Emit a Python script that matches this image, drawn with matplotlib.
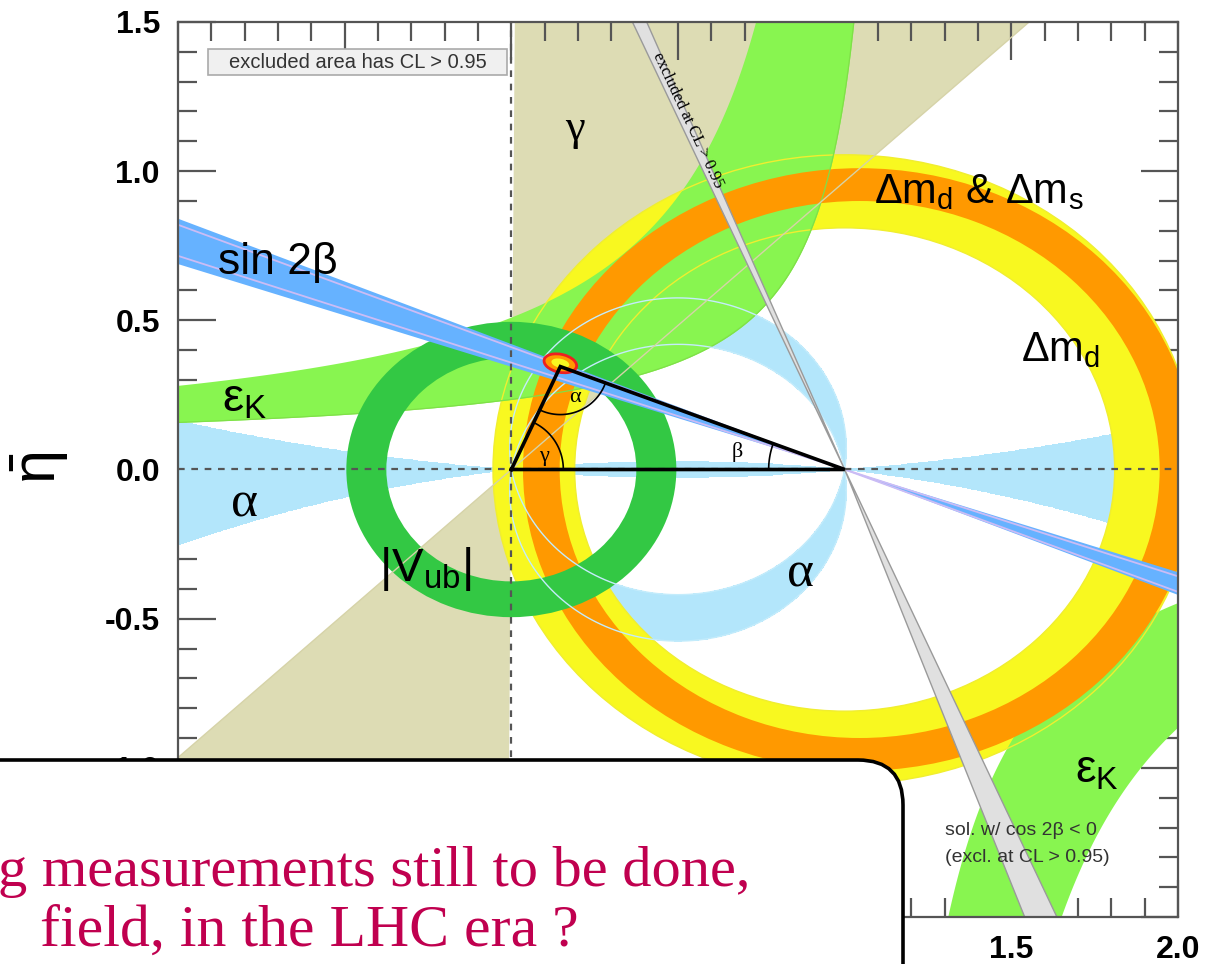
import numpy as np
import matplotlib.pyplot as plt
from matplotlib.patches import Wedge, Polygon, Ellipse, Rectangle, FancyBboxPatch, Circle
from matplotlib.ticker import MultipleLocator, FixedFormatter, FixedLocator

plt.rcParams['font.family'] = ['Liberation Sans', 'DejaVu Sans']
plt.rcParams['mathtext.fontset'] = 'custom'
plt.rcParams['mathtext.rm'] = 'Liberation Sans'
plt.rcParams['mathtext.it'] = 'Liberation Sans:italic'
plt.rcParams['mathtext.default'] = 'regular'
plt.rcParams['axes.unicode_minus'] = False

# constraints in the (rho, eta) plane
gamma_range = [44.0, 89.6]        # deg, wedge at (0,0) + mirror
sin2b_range = [19.0, 22.8]        # beta (deg), wedge at (1,0)
sin2b_inner = [19.7, 22.3]
cos2b_up = [67.0, 68.4]           # cos2beta<0 solution, excluded
cos2b_dn = [67.0, 70.2]
alpha_ring = [82.0, 100.0]
alpha_small = [4.6, 7.0]          # eta>0 / eta<0
alpha_flat = 6.0
dmd_c, dmd_r = 1.0, [0.81, 1.055]
dms_c, dms_r = 1.045, [0.90, 1.01]
vub_r = [0.375, 0.495]
# eps_K edges: eta = e + k/(a - rho)
epsk_lo = [0.068, 0.194, 1.163]
epsk_hi = [0.033, 0.520, 1.087]
epsk2_left = [0.0, 0.438, 1.017]
epsk2_right = [0.0, 0.7125, 1.174]
apex = [0.147, 0.345]
fit_ell = [0.147, 0.356, 0.10, 0.06, -15]

xticks = [-1.0, -0.5, 0.0, 0.5, 1.0, 1.5, 2.0]
xlabels = ['', '', '', '', '', '1.5', '2.0']
yticks = [-1.5, -1.0, -0.5, 0.0, 0.5, 1.0, 1.5]
ylabels = ['', '-1.0', '-0.5', '0.0', '0.5', '1.0', '1.5']

c_gamma = '#dddcb4'
c_alpha = '#b3e6fb'
c_epsk = '#88f550'
c_dmd = '#f8f820'
c_dms = '#ff9900'
c_vub = '#33c844'
c_sin2b = '#66b2ff'
c_excl = '#e0e0e0'

fig = plt.figure(figsize=(12.05, 9.64), dpi=100)
ax = fig.add_axes([178/1205, 1-917/964, 1000/1205, 895/964])
ax.set_xlim(-1, 2)
ax.set_ylim(-1.5, 1.5)
sx = 1000/3.0
sy = 895/3.0
R = 5.0

def hyp(p, x):
    return p[0] + p[1]/(p[2]-x)

def alpha_circle(a_deg, lower):
    # locus of apex points that see the (0,0)-(1,0) base under angle a
    c = 0.5/np.tan(np.radians(a_deg))
    if lower:
        c = -c
    r = np.hypot(0.5, c)
    t = np.linspace(0, 2*np.pi, 400)
    x, y = 0.5 + r*np.cos(t), c + r*np.sin(t)
    keep = (y <= 0) if lower else (y >= 0)
    return np.where(keep, x, np.nan), np.where(keep, y, np.nan)

# gamma
for s in (1, -1):
    t = np.radians(np.linspace(gamma_range[0], gamma_range[1], 30))
    pts = [(0, 0)] + [(s*R*np.cos(a), s*R*np.sin(a)) for a in t]
    ax.add_patch(Polygon(pts, closed=True, fc=c_gamma, ec='none', zorder=1))

# alpha
rr, ee = np.meshgrid(np.linspace(-1, 2, 1600), np.linspace(-1.5, 1.5, 1600))
ux, uy = -rr, -ee
vx, vy = 1-rr, -ee
cosang = (ux*vx+uy*vy)/np.hypot(ux, uy)/np.hypot(vx, vy)
ang = np.degrees(np.arccos(np.clip(cosang, -1, 1)))
small = np.where(ee >= 0, ang <= alpha_small[0], ang <= alpha_small[1])
mask = ((ang >= alpha_ring[0]) & (ang <= alpha_ring[1])) | small | (ang >= 180-alpha_flat)
ax.contourf(rr, ee, mask.astype(float), levels=[0.5, 1.5], colors=[c_alpha], zorder=2)

# Delta m_d ring (under eps_K)
ax.add_patch(Wedge((dmd_c, 0), dmd_r[1], 0, 360, width=dmd_r[1]-dmd_r[0],
                   fc=c_dmd, ec='none', zorder=3))

# eps_K, upper branch
x1 = np.linspace(-1.0, 1.08, 600)
lo = np.clip(hyp(epsk_lo, x1), -2, 1.6)
hi = np.where(x1 < epsk_hi[2] - 1e-3, hyp(epsk_hi, np.minimum(x1, epsk_hi[2]-1e-3)), 1.6)
hi = np.clip(hi, -2, 1.6)
ax.fill_between(x1, lo, hi, color=c_epsk, lw=0, zorder=4)
# eps_K, lower branch
x2 = np.linspace(1.2, 2.05, 400)
up2 = np.clip(hyp(epsk2_left, x2), -1.6, 0)
dn2 = np.clip(hyp(epsk2_right, x2), -1.6, 0)
ax.fill_between(x2, dn2, up2, color=c_epsk, lw=0, zorder=4)

# thin Delta m_d contours show through eps_K
for r in dmd_r:
    ax.add_patch(Circle((dmd_c, 0), r, fc='none', ec='#f0ee30', lw=1.0, zorder=4.5))

# Delta m_d & Delta m_s
ax.add_patch(Wedge((dms_c, 0), dms_r[1], 0, 360, width=dms_r[1]-dms_r[0],
                   fc=c_dms, ec='none', zorder=5))
ax.plot(x1, np.where(lo < 1.6, lo, np.nan), color='#7fe048', lw=0.9, zorder=5.5)

# |Vub|
ax.add_patch(Wedge((0, 0), vub_r[1], 0, 360, width=vub_r[1]-vub_r[0],
                   fc=c_vub, ec='none', zorder=6))

# faint alpha and gamma contours over the rings
for a in alpha_ring:
    for low in (False, True):
        xa, ya = alpha_circle(a, low)
        ax.plot(xa, ya, color='#c4ecfb', lw=1.0, zorder=6.5)
for s in (1, -1):
    g = np.radians(gamma_range[0])
    ax.plot([0, s*R*np.cos(g)], [0, s*R*np.sin(g)], color='#d6d3a8', lw=1.0, zorder=6.5)

# sin 2beta
for s in (1, -1):
    b0, b1 = np.radians(sin2b_range)
    pts = [(1, 0), (1 - s*R*np.cos(b0), s*R*np.sin(b0)), (1 - s*R*np.cos(b1), s*R*np.sin(b1))]
    ax.add_patch(Polygon(pts, closed=True, fc=c_sin2b, ec='none', zorder=7))
    for b in np.radians(sin2b_inner):
        ax.plot([1, 1 - s*R*np.cos(b)], [0, s*R*np.sin(b)], color='#cbbcf5', lw=1.3, zorder=7)

# excluded cos2beta<0 solution
for s, rng in ((1, cos2b_up), (-1, cos2b_dn)):
    b0, b1 = np.radians(rng)
    pts = [(1, 0), (1 - s*R*np.cos(b0), s*R*np.sin(b0)), (1 - s*R*np.cos(b1), s*R*np.sin(b1))]
    ax.add_patch(Polygon(pts, closed=True, fc=c_excl, ec='#9a9a9a', lw=1.0, zorder=8))

# axes of the plane
ax.axhline(0, color='#555555', lw=1.6, ls=(0, (3, 3)), zorder=9)
ax.axvline(0, color='#555555', lw=1.6, ls=(0, (3, 3)), zorder=9)

# fit result at the apex
ax.add_patch(Ellipse(fit_ell[:2], fit_ell[2], fit_ell[3], angle=fit_ell[4],
                     fc='#ff9900', ec='#ee2020', lw=2, zorder=10))
ax.add_patch(Ellipse(fit_ell[:2], fit_ell[2]*0.55, fit_ell[3]*0.5, angle=fit_ell[4],
                     fc='#f8f820', ec='none', zorder=10))

# unitarity triangle
ax.plot([0, apex[0], 1, 0], [0, apex[1], 0, 0], color='black', lw=2.6,
        solid_joinstyle='miter', zorder=11)

def arc(cx, cy, r_px, a0, a1):
    t = np.radians(np.linspace(a0, a1, 60))
    ax.plot(cx + r_px*np.cos(t)/sx, cy + r_px*np.sin(t)/sy, color='black', lw=1.2, zorder=11)

d_ap = np.degrees(np.arctan2(apex[1]*sy, apex[0]*sx))
d_a0 = np.degrees(np.arctan2(-apex[1]*sy, -apex[0]*sx))
d_a1 = np.degrees(np.arctan2(-apex[1]*sy, (1-apex[0])*sx))
d_b = np.degrees(np.arctan2(apex[1]*sy, (apex[0]-1)*sx))
arc(0, 0, 52, 0, d_ap)
arc(apex[0], apex[1], 48, d_a0, d_a1)
arc(1, 0, 76, d_b, 180)

serif = ['Liberation Serif', 'DejaVu Serif']
ax.text(0.192, 0.241, 'α', fontsize=16, family=serif, ha='center', va='center', zorder=12)
ax.text(0.098, 0.045, 'γ', fontsize=16, family=serif, ha='center', va='center', zorder=12)
ax.text(0.678, 0.057, 'β', fontsize=16, family=serif, ha='center', va='center', zorder=12)

# constraint labels
ax.text(0.192, 1.143, 'γ', fontsize=32, family=serif, ha='center', va='center', zorder=12)
ax.text(-0.70, 0.694, 'sin 2β', fontsize=32, ha='center', va='center', zorder=12)
ax.text(-0.80, 0.235, r'$ε_K$', fontsize=34, ha='center', va='center', zorder=12)
ax.text(-0.80, -0.115, 'α', fontsize=37, family=serif, ha='center', va='center', zorder=12)
ax.text(-0.258, -0.335, r'$|V_{ub}|$', fontsize=34, ha='center', va='center', zorder=12)
ax.text(0.867, -0.350, 'α', fontsize=37, family=serif, ha='center', va='center', zorder=12)
ax.text(1.401, 0.93, r'$\Delta m_d$ & $\Delta m_s$', fontsize=30, ha='center', va='center', zorder=12)
ax.text(1.647, 0.40, r'$\Delta m_d$', fontsize=30, ha='center', va='center', zorder=12)
ax.text(1.758, -1.01, r'$ε_K$', fontsize=33, ha='center', va='center', zorder=12)
ax.text(1.302, -1.21, 'sol. w/ cos 2β < 0', fontsize=14, color='#333333',
        ha='left', va='center', zorder=12)
ax.text(1.302, -1.30, '(excl. at CL > 0.95)', fontsize=14, color='#333333',
        ha='left', va='center', zorder=12)
ax.text(0.531, 1.17, 'excluded at CL > 0.95', fontsize=12, family=serif, rotation=-65,
        rotation_mode='anchor', ha='center', va='center', zorder=12)

ax.add_patch(Rectangle((-0.909, 1.321), 0.897, 0.087, fc='#f0f0f0', ec='#aaaaaa',
                       lw=1.2, zorder=12))
ax.text(-0.46, 1.364, 'excluded area has CL > 0.95', fontsize=14.5, color='#333333',
        ha='center', va='center', zorder=13)

# frame and ticks
ax.xaxis.set_major_locator(FixedLocator(xticks))
ax.xaxis.set_major_formatter(FixedFormatter(xlabels))
ax.yaxis.set_major_locator(FixedLocator(yticks))
ax.yaxis.set_major_formatter(FixedFormatter(ylabels))
ax.xaxis.set_minor_locator(MultipleLocator(0.1))
ax.yaxis.set_minor_locator(MultipleLocator(0.1))
ax.tick_params(which='both', direction='in', top=True, right=True, color='#555555', width=1.6)
ax.tick_params(which='major', length=27, labelsize=23, pad=13)
ax.tick_params(which='minor', length=14)
for lab in ax.get_xticklabels() + ax.get_yticklabels():
    lab.set_fontweight('bold')
for sp in ax.spines.values():
    sp.set_color('#555555')
    sp.set_linewidth(1.6)
    sp.set_zorder(14)

fig.text(40/1205, 1-468/964, r'$\bar{η}$', rotation=90, fontsize=44,
         ha='center', va='center')

# slide callout on top
ov = fig.add_axes([0, 0, 1, 1], zorder=20)
ov.set_xlim(0, 1205)
ov.set_ylim(964, 0)
ov.axis('off')
ov.patch.set_alpha(0)
ov.add_patch(FancyBboxPatch((-80, 760), 983, 320, boxstyle='round,pad=0,rounding_size=45',
                            fc='white', ec='black', lw=2.6))
ov.text(-2, 886, 'g measurements still to be done,', fontsize=42, family=serif,
        color='#c0004f', va='baseline', ha='left')
ov.text(40, 946, 'field, in the LHC era ?', fontsize=43, family=serif,
        color='#c0004f', va='baseline', ha='left')

fig.savefig('out.png', dpi=100)
